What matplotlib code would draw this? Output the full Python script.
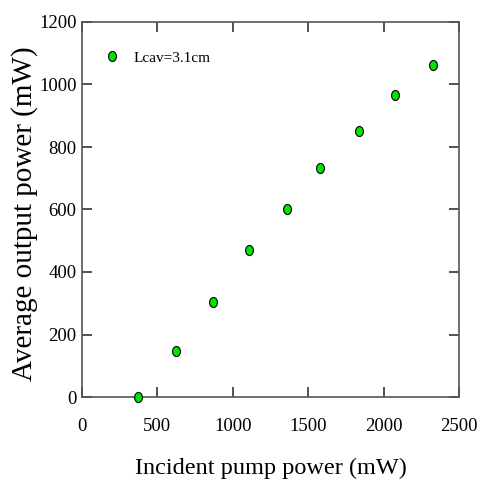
import matplotlib
matplotlib.use("Agg")
import numpy as np
import matplotlib.pyplot as plt
from matplotlib.path import Path

# Incident pump power (mW) and measured average output power (mW)
pump_power = [369, 625, 869, 1107, 1359, 1576, 1837, 2078, 2328]
output_power = [0, 148, 305, 470, 601, 732, 851, 966, 1061]
series_label = "Lcav=3.1cm"

x_ticks = [0, 500, 1000, 1500, 2000, 2500]
y_ticks = [0, 200, 400, 600, 800, 1000, 1200]

plt.rcParams["font.family"] = ["Liberation Serif", "DejaVu Serif"]

# slightly tall oval marker
theta = np.linspace(0, 2 * np.pi, 41)
oval = Path(np.column_stack([0.78 * np.cos(theta), np.sin(theta)]), closed=True)

fig = plt.figure(figsize=(4.83, 4.86), dpi=100)
ax = fig.add_axes([82 / 483, 1 - 397 / 486, 377 / 483, 375 / 486])

ax.plot(pump_power, output_power, linestyle="none", marker=oval,
        markersize=7.2, markerfacecolor="#00e600", markeredgecolor="black",
        markeredgewidth=0.8, label=series_label, clip_on=False, zorder=3)

ax.set_xlim(0, 2500)
ax.set_ylim(0, 1200)
ax.set_xticks(x_ticks)
ax.set_yticks(y_ticks)

for side in ["left", "right", "top", "bottom"]:
    ax.spines[side].set_color("#555555")
    ax.spines[side].set_linewidth(1.2)

ax.tick_params(direction="in", length=7, width=1.2, color="#333333",
               top=True, right=True, labelsize=13.5)
ax.tick_params(axis="x", pad=15)
ax.tick_params(axis="y", pad=4)

ax.set_xlabel("Incident pump power (mW)", fontsize=17.5)
ax.xaxis.set_label_coords(0.502, -0.162)
ax.set_ylabel("Average output power (mW)", fontsize=21)
ax.yaxis.set_label_coords(-0.118, 0.49)

ax.legend(loc="center left", frameon=False, fontsize=11,
          handlelength=1.0, handletextpad=0.9, borderpad=0,
          borderaxespad=0, bbox_to_anchor=(0.0594, 0.904))

fig.savefig("out.png", dpi=100)
